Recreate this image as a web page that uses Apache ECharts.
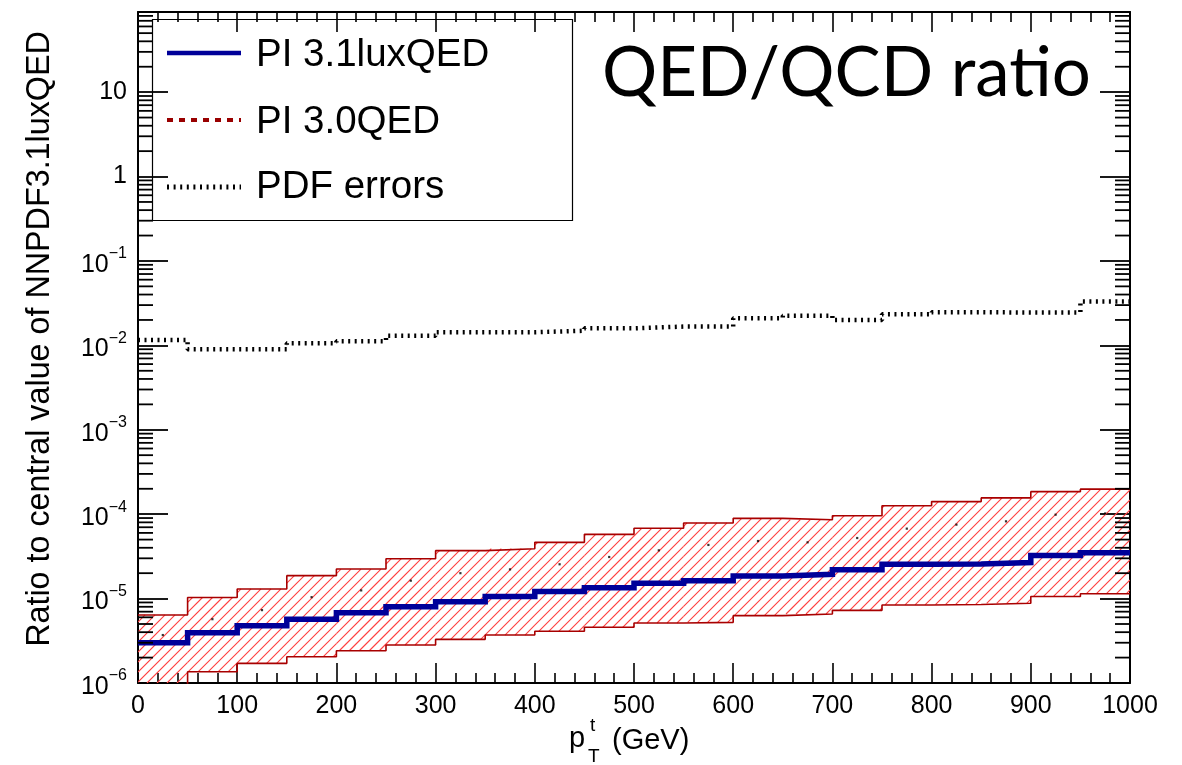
<!DOCTYPE html>
<html><head><meta charset="utf-8">
<script src="https://cdn.jsdelivr.net/npm/echarts@6/dist/echarts.min.js"></script>
<style>html,body{margin:0;padding:0;background:#fff}#c{width:1182px;height:765px}</style>
</head><body><div id="c"></div>
<script>
// ---- data ----
const binEdges = [0,50,100,150,200,250,300,350,400,450,500,550,600,650,700,750,800,850,900,950,1000];
// PI 3.1luxQED central value (ratio)
const lux31 = [3.0e-6,3.94e-6,4.77e-6,5.68e-6,6.8e-6,8.0e-6,9.2e-6,1.06e-5,1.21e-5,1.34e-5,1.52e-5,1.63e-5,1.85e-5,1.94e-5,2.2e-5,2.55e-5,2.57e-5,2.67e-5,3.23e-5,3.5e-5];
// PI 3.0QED central value and band edges
const qed30 = [3.7e-6,5.7e-6,7.3e-6,1.04e-5,1.25e-5,1.63e-5,2.0e-5,2.22e-5,2.55e-5,3.11e-5,3.73e-5,4.32e-5,4.81e-5,4.64e-5,5.22e-5,6.74e-5,7.52e-5,8.23e-5,9.87e-5,1.02e-4];
const qed30Up = [6.4e-6,1.03e-5,1.3e-5,1.87e-5,2.24e-5,2.97e-5,3.7e-5,3.9e-5,4.64e-5,5.77e-5,6.8e-5,7.87e-5,8.93e-5,8.6e-5,9.6e-5,1.26e-4,1.41e-4,1.56e-4,1.85e-4,1.98e-4];
const qed30Lo = [0.95e-6,1.36e-6,1.71e-6,2.05e-6,2.41e-6,2.82e-6,3.29e-6,3.7e-6,4.1e-6,4.57e-6,5.14e-6,5.23e-6,6.28e-6,6.57e-6,7.26e-6,8.4e-6,8.5e-6,8.79e-6,1.06e-5,1.14e-5];
// PDF errors
const pdfErr = [0.0116,0.0090,0.0090,0.0106,0.0112,0.0130,0.0143,0.0143,0.0149,0.0159,0.0167,0.0167,0.0209,0.0225,0.0200,0.0233,0.0247,0.0245,0.0245,0.0330];
// axes
const xTicks = [0,100,200,300,400,500,600,700,800,900,1000];
const yMin = 1e-6, yMax = 89;
const seriesNames = ['PI 3.1luxQED','PI 3.0QED','PDF errors'];

// ---- helpers ----
const FONT = '"Liberation Sans", Arial, Helvetica, sans-serif';
const HATCH = '#ff4040';
// histogram outline: horizontal segment across each bin, joined by vertical steps
function histPoints(arr){
  const d = [];
  arr.forEach((v,i)=>{ d.push([binEdges[i], v]); d.push([binEdges[i+1], v]); });
  return d;
}
const binCenters = binEdges.slice(0,-1).map((e,i)=>(e+binEdges[i+1])/2);

// log minor tick values (axis decoration)
const minorY = [];
for (let k=-6;k<=1;k++) for (let m=2;m<=9;m++){ const v=m*Math.pow(10,k); if(v<yMax) minorY.push([0,v]); }

const chart = echarts.init(document.getElementById('c'), null, {renderer:'canvas'});

const axisLineStyle = {lineStyle:{color:'#000', width:2}};
function xAxisCfg(pos, showLabel){
  return {
    type:'value', position:pos, min:xTicks[0], max:xTicks[xTicks.length-1], interval:xTicks[1]-xTicks[0],
    axisLine:{show:true, onZero:false, ...axisLineStyle},
    axisTick:{show:true, inside:true, length:20, lineStyle:{color:'#000', width:1.6}},
    minorTick:{show:true, splitNumber:5, length:10, lineStyle:{color:'#000', width:1.6}},
    splitLine:{show:false},
    axisLabel:{show:showLabel, color:'#000', fontFamily:FONT, fontSize:25, margin:11,
      formatter:function(v){ return String(v); }},
  };
}
function yAxisCfg(pos, showLabel){
  return {
    type:'log', logBase:10, position:pos, min:yMin, max:yMax,
    axisLine:{show:true, onZero:false, ...axisLineStyle},
    axisTick:{show:true, inside:true, length:30, lineStyle:{color:'#000', width:1.8}},
    splitLine:{show:false},
    axisLabel:{show:showLabel, color:'#000', fontFamily:FONT, fontSize:25, margin:11,
      showMaxLabel:false,
      formatter:function(v){
        const e = Math.round(Math.log10(v));
        if (Math.abs(Math.log10(v)-e) > 1e-6) return '';
        if (e===0) return '1';
        if (e===1) return '10';
        return '{b|10}{s|\u2212' + (-e) + '}';
      },
      rich:{
        b:{fontFamily:FONT, fontSize:25, color:'#000', lineHeight:30, padding:[8,0,0,0]},
        s:{fontFamily:FONT, fontSize:16, color:'#000', lineHeight:16, verticalAlign:'top'}
      }
    },
  };
}

const option = {
  animation:false,
  backgroundColor:'#fff',
  grid:{left:138, right:52, top:12, bottom:82, containLabel:false},
  xAxis:[xAxisCfg('bottom', true), xAxisCfg('top', false)],
  yAxis:[yAxisCfg('left', true), yAxisCfg('right', false)],
  series:[
    { // hatched band PI 3.0QED
      type:'custom', name:seriesNames[1]+' band', silent:true, clip:true, z:1,
      xAxisIndex:0, yAxisIndex:0,
      itemStyle:{color:HATCH},
      data: qed30Up.map((u,i)=>[binEdges[i], binEdges[i+1], qed30Lo[i], u]),
      encode:{x:[0,1], y:[2,3]},
      renderItem:function(params, api){
        const p0 = api.coord([api.value(0), api.value(3)]);
        const p1 = api.coord([api.value(1), api.value(2)]);
        const cs = params.coordSys;
        const r = echarts.graphic.clipRectByRect(
          {x:p0[0], y:p0[1], width:p1[0]-p0[0], height:p1[1]-p0[1]},
          {x:cs.x, y:cs.y, width:cs.width, height:cs.height});
        if (!r) return null;
        const x0=r.x, x1=r.x+r.width, y0=r.y, y1=r.y+r.height, S=10;
        let d = '';
        for (let c = Math.ceil((x0+y0)/S)*S; c <= x1+y1; c += S){
          const xa = Math.max(x0, c-y1), xb = Math.min(x1, c-y0);
          if (xb > xa) d += 'M' + xa.toFixed(2) + ' ' + (c-xa).toFixed(2) + 'L' + xb.toFixed(2) + ' ' + (c-xb).toFixed(2);
        }
        const col = api.visual('color');
        return {type:'path', shape:{pathData:d}, style:{stroke:col, fill:'none', lineWidth:1.1}};
      }
    },
    { type:'line', name:'upper', data:histPoints(qed30Up), showSymbol:false, symbol:'none', silent:true, z:2,
      lineStyle:{color:'#a80000', width:1.6} },
    { type:'line', name:'lower', data:histPoints(qed30Lo), showSymbol:false, symbol:'none', silent:true, z:2,
      lineStyle:{color:'#a80000', width:1.6} },
    { type:'scatter', name:seriesNames[1], data:binCenters.map((x,i)=>[x, qed30[i]]), symbol:'rect', symbolSize:2.2, silent:true, z:3,
      itemStyle:{color:'#000'} },
    { type:'line', name:seriesNames[0], data:histPoints(lux31), showSymbol:false, symbol:'none', silent:true, z:4,
      lineStyle:{color:'#000099', width:5.5, join:'miter'} },
    { type:'line', name:seriesNames[2], data:histPoints(pdfErr), showSymbol:false, symbol:'none', silent:true, z:4,
      lineStyle:{color:'#000', width:4.5, type:[2,4.5]} },
    { // log minor ticks on left and right frame
      type:'custom', name:'minorTicks', silent:true, z:5, clip:false,
      xAxisIndex:0, yAxisIndex:0, data:minorY, encode:{x:0, y:1},
      itemStyle:{color:'#000'},
      renderItem:function(params, api){
        const p = api.coord([0, api.value(1)]);
        const cs = params.coordSys;
        const st = {stroke:'#000', lineWidth:1.8};
        return {type:'group', children:[
          {type:'line', shape:{x1:cs.x, y1:p[1], x2:cs.x+15, y2:p[1]}, style:st},
          {type:'line', shape:{x1:cs.x+cs.width-15, y1:p[1], x2:cs.x+cs.width, y2:p[1]}, style:st}
        ]};
      }
    }
  ],
  graphic:[
    // legend box
    {type:'group', z:100, children:[
      {type:'rect', shape:{x:152.5, y:19.5, width:420, height:201}, style:{fill:'#fff', stroke:'#000', lineWidth:1.2}},
      {type:'line', shape:{x1:167, y1:53, x2:241, y2:53}, style:{stroke:'#000099', lineWidth:4.5}},
      {type:'text', x:256, y:55, style:{text:seriesNames[0], font:'38.5px '+FONT, fill:'#000', textVerticalAlign:'middle'}},
      {type:'line', shape:{x1:167, y1:120, x2:241, y2:120}, style:{stroke:'#990000', lineWidth:4, lineDash:[6,6]}},
      {type:'text', x:256, y:122, style:{text:seriesNames[1], font:'38.5px '+FONT, fill:'#000', textVerticalAlign:'middle'}},
      {type:'line', shape:{x1:167, y1:187, x2:241, y2:187}, style:{stroke:'#000', lineWidth:5, lineDash:[2,4.6]}},
      {type:'text', x:256, y:187, style:{text:seriesNames[2], font:'38.5px '+FONT, fill:'#000', textVerticalAlign:'middle'}}
    ]},
    // big annotation
    {type:'text', z:100, x:602, y:74, style:{text:'QED/QCD ratio', font:'400 69px Lato, "Open Sans", sans-serif', fill:'#000', textVerticalAlign:'middle'}},
    // y axis title
    {type:'text', z:100, x:40, y:339, rotation:Math.PI/2,
      style:{text:'Ratio to central value of NNPDF3.1luxQED', font:'32.3px '+FONT, fill:'#000', textAlign:'center', textVerticalAlign:'middle'}},
    // x axis title p_T^t (GeV)
    {type:'text', z:100, x:569, y:739, style:{text:'p', font:'29px '+FONT, fill:'#000', textVerticalAlign:'middle'}},
    {type:'text', z:100, x:590, y:726, style:{text:'t', font:'19px '+FONT, fill:'#000', textVerticalAlign:'middle'}},
    {type:'text', z:100, x:588, y:757, style:{text:'T', font:'19px '+FONT, fill:'#000', textVerticalAlign:'middle'}},
    {type:'text', z:100, x:612, y:741, style:{text:'(GeV)', font:'29px '+FONT, fill:'#000', textVerticalAlign:'middle'}}
  ]
};
chart.setOption(option);
</script>
</body></html>
